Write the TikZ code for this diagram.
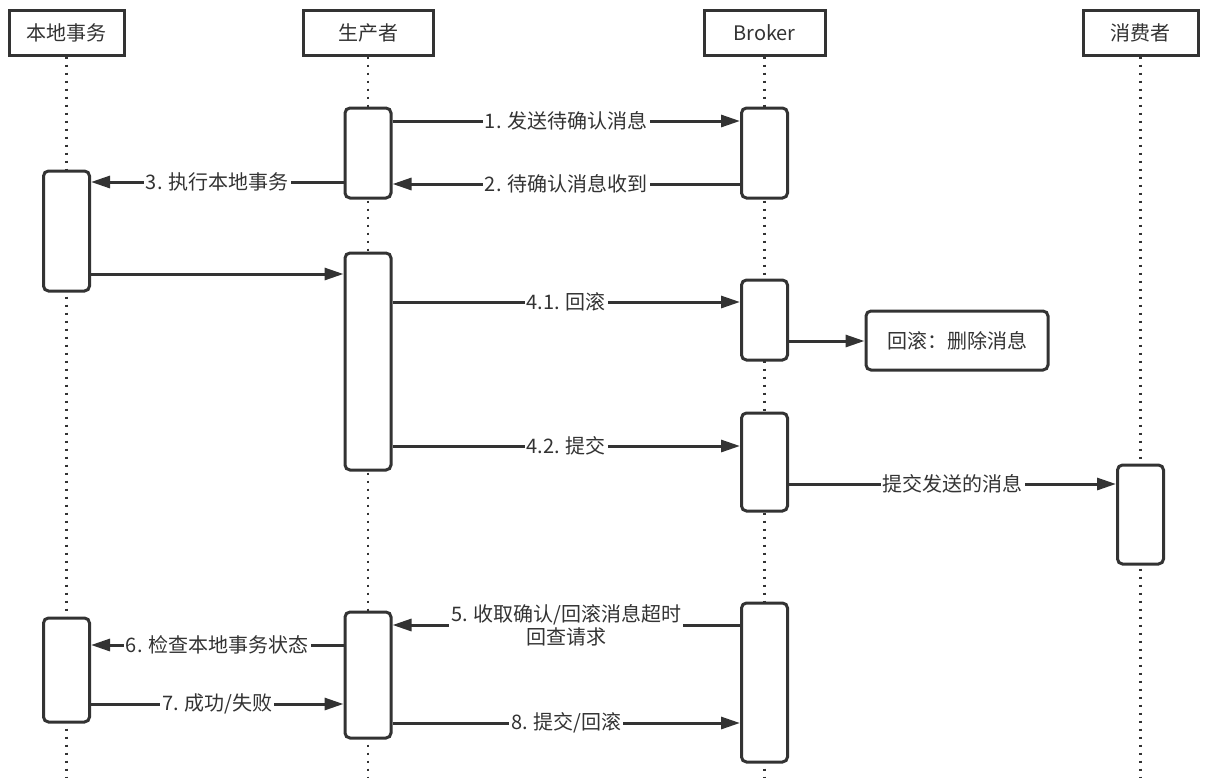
\documentclass[tikz,border=0pt]{standalone}
\usepackage{fontspec}
\setmainfont{Noto Sans CJK SC}
\usetikzlibrary{arrows.meta}
\definecolor{ink}{HTML}{333333}
\tikzset{
actor/.style={draw=ink, line width=3pt, fill=white, minimum width=#1,
  minimum height=45pt, inner sep=0pt},
act/.style={draw=ink, line width=3pt, fill=white, rounded corners=5pt,
  minimum width=46pt, minimum height=#1, inner sep=0pt},
life/.style={ink, line width=2.8pt, dash pattern=on 2.8pt off 5.2pt},
msg/.style={ink, line width=3pt, -{Triangle[length=19pt,width=12pt]}},
lbl/.style={midway, fill=white, inner xsep=2pt, inner ysep=1pt}
}
\begin{document}
\begin{tikzpicture}[x=1pt, y=-1pt, font=\fontsize{20}{23}\selectfont, text=ink]
  \useasboundingbox (0,0) rectangle (1208,777);
  \node[actor=115pt] (local) at (66.5,32.5) {本地事务};
  \node[actor=130pt] (prod) at (368,32.5) {生产者};
  \node[actor=121pt] (broker) at (764.5,32.5) {Broker};
  \node[actor=115pt] (cons) at (1140.5,32.5) {消费者};
  \foreach \who in {local,prod,broker,cons}
    \draw[life] (\who.south) -- (\who.south |- 0,777);

  \node[act=90pt] (p1) at (368,153) {};
  \node[act=90pt] (b1) at (764.5,153) {};
  \node[act=120pt] (l1) at (66.5,231) {};
  \node[act=217pt] (p2) at (368,361.5) {};
  \node[act=80pt] (b2) at (764.5,320) {};
  \node[act=98pt] (b3) at (764.5,462) {};
  \node[act=99pt] (c1) at (1140.5,514.5) {};
  \node[act=104pt] (l2) at (66.5,670) {};
  \node[act=126pt] (p3) at (368,675) {};
  \node[act=159pt] (b4) at (764.5,682.5) {};
  \node[draw=ink, line width=3pt, rounded corners=5pt, minimum width=182pt,
        minimum height=59pt] (undo) at (957,340.5) {回滚：删除消息};

  \draw[msg] (p1.east |- 0,121) -- (b1.west |- 0,121) node[lbl] {1. 发送待确认消息};
  \draw[msg] (b1.west |- 0,184) -- (p1.east |- 0,184) node[lbl] {2. 待确认消息收到};
  \draw[msg] (p1.west |- 0,182) -- (l1.east |- 0,182) node[lbl] {3. 执行本地事务};
  \draw[msg] (l1.east |- 0,274) -- (p2.west |- 0,274);
  \draw[msg] (p2.east |- 0,302) -- (b2.west |- 0,302) node[lbl] {4.1. 回滚};
  \draw[msg] (b2.east |- 0,341) -- (undo.west |- 0,341);
  \draw[msg] (p2.east |- 0,446) -- (b3.west |- 0,446) node[lbl] {4.2. 提交};
  \draw[msg] (b3.east |- 0,484) -- (c1.west |- 0,484) node[lbl] {提交发送的消息};
  \draw[msg] (b4.west |- 0,625) -- (p3.east |- 0,625)
    node[lbl, align=center] {5. 收取确认/回滚消息超时\\回查请求};
  \draw[msg] (p3.west |- 0,645) -- (l2.east |- 0,645) node[lbl] {6. 检查本地事务状态};
  \draw[msg] (l2.east |- 0,704) -- (p3.west |- 0,704) node[lbl] {7. 成功/失败};
  \draw[msg] (p3.east |- 0,723) -- (b4.west |- 0,723) node[lbl] {8. 提交/回滚};
\end{tikzpicture}
\end{document}
